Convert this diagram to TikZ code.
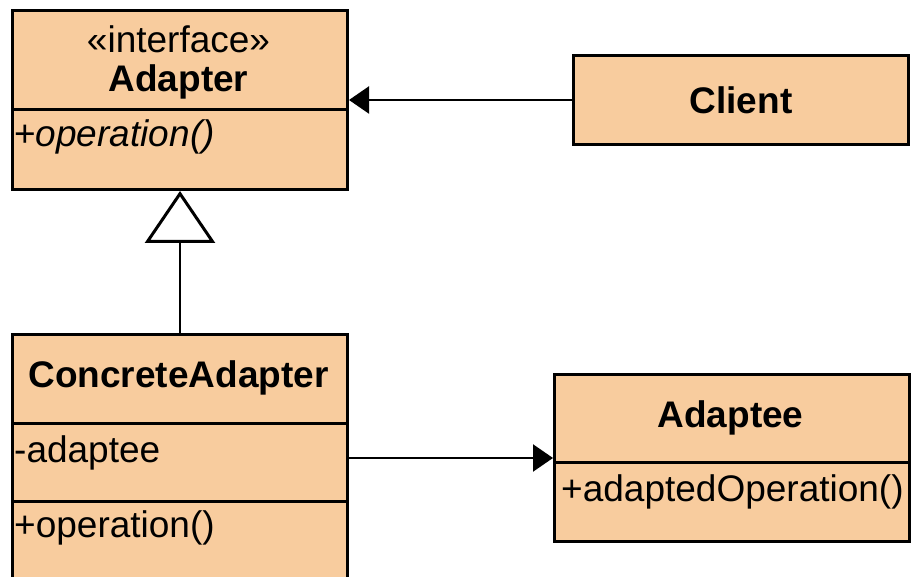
\documentclass[tikz,border=0pt]{standalone}
\usepackage{fontspec}
\setmainfont{Liberation Sans}
\usetikzlibrary{arrows.meta}
\definecolor{peach}{RGB}{248,204,158}
\begin{document}
\begin{tikzpicture}[x=1pt,y=-1pt,
  umlbox/.style={draw=black,fill=peach,line width=3pt,rectangle,inner sep=0pt,anchor=north west},
  divider/.style={draw=black,line width=3pt},
  txt/.style={inner sep=0pt,font=\fontsize{37}{44}\selectfont},
  btxt/.style={inner sep=0pt,font=\fontsize{37}{44}\selectfont\bfseries},
  ltxt/.style={txt,anchor=west},
  conn/.style={draw=black,line width=2.2pt},
  assoc/.style={conn,-{Triangle[length=20pt,width=27pt]}},
  gen/.style={conn,-{Triangle[open,length=52pt,width=70pt,line width=3pt]}}
]
\useasboundingbox (0,0) rectangle (911,577);
\clip (0,0) rectangle (911,577);
\fill[white] (0,0) rectangle (911,577);

% Adapter
\node[umlbox,minimum width=335pt,minimum height=179pt] (adapter) at (11,9) {};
\draw[divider] (11,110) -- (346,110);
\node[txt] (adst) at (178.5,39) {«interface»};
\node[btxt] (adname) at (178.5,82) {Adapter};
\node[ltxt] (adop) at (14,137) {+\textit{operation()}};

% Client
\node[umlbox,minimum width=335pt,minimum height=89pt] (client) at (572,54) {};
\node[btxt] (clname) at (client.center) {Client};

% ConcreteAdapter
\node[umlbox,minimum width=335pt,minimum height=270pt] (ca) at (11,333) {};
\draw[divider] (11,424) -- (346,424);
\draw[divider] (11,501) -- (346,501);
\node[btxt] (caname) at (178.5,378) {ConcreteAdapter};
\node[ltxt] (caattr) at (14,453) {-adaptee};
\node[ltxt] (caop) at (14,528) {+operation()};

% Adaptee
\node[umlbox,minimum width=355pt,minimum height=167pt] (adaptee) at (553,373) {};
\draw[divider] (553,462) -- (908,462);
\node[btxt] (aename) at (730.5,418) {Adaptee};
\node[ltxt] (aeop) at (561,492) {+adaptedOperation()};

% connectors
\draw[assoc] (client.west) -- (adapter.east);
\draw[assoc] (adaptee.west -| ca.east) -- (adaptee.west);
\draw[gen] (ca.north) -- (adapter.south);
\end{tikzpicture}
\end{document}
